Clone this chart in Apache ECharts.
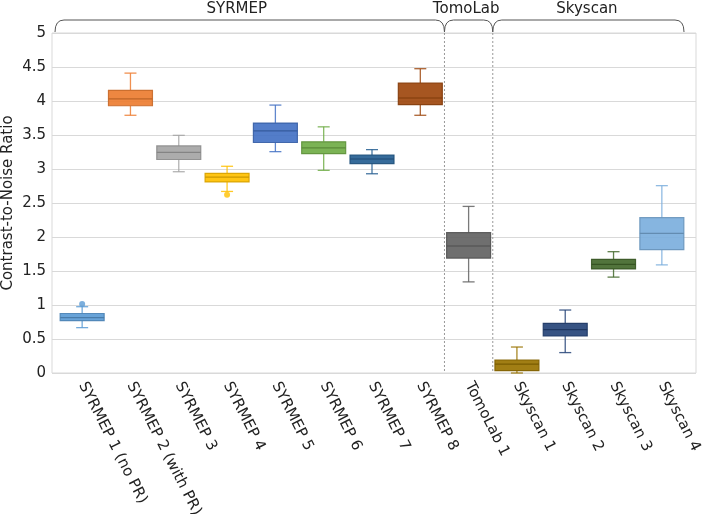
<!DOCTYPE html>
<html>
<head>
<meta charset="utf-8">
<script src="https://cdn.jsdelivr.net/npm/echarts@6/dist/echarts.min.js"></script>
<style>html,body{margin:0;padding:0;background:#fff}#c{width:709px;height:520px}</style>
</head>
<body>
<div id="c"></div>
<script>
const categories = ['SYRMEP 1 (no PR)', 'SYRMEP 2 (with PR)', 'SYRMEP 3', 'SYRMEP 4', 'SYRMEP 5', 'SYRMEP 6', 'SYRMEP 7', 'SYRMEP 8', 'TomoLab 1', 'Skyscan 1', 'Skyscan 2', 'Skyscan 3', 'Skyscan 4'];
const whiskerLow  = [0.667, 3.79, 2.96, 2.67, 3.255, 2.98, 2.93, 3.79, 1.34, 0.0, 0.30, 1.41, 1.59];
const q1          = [0.77, 3.93, 3.14, 2.81, 3.39, 3.225, 3.08, 3.946, 1.69, 0.034, 0.544, 1.53, 1.813];
const median      = [0.815, 4.03, 3.245, 2.88, 3.56, 3.31, 3.147, 4.044, 1.868, 0.13, 0.637, 1.598, 2.054];
const q3          = [0.875, 4.157, 3.34, 2.937, 3.676, 3.40, 3.206, 4.265, 2.063, 0.191, 0.73, 1.672, 2.284];
const whiskerHigh = [0.975, 4.41, 3.495, 3.04, 3.94, 3.62, 3.285, 4.475, 2.45, 0.382, 0.926, 1.784, 2.755];
const outlierCategory = [0, 3];
const outlierValue = [1.015, 2.62];
const colors = ['#5B9BD5', '#ED7D31', '#A5A5A5', '#FFC000', '#4472C4', '#70AD47', '#255E91', '#9E480E', '#636363', '#997300', '#264478', '#43682B', '#7CAFDD'];
const groups = [
  {name: 'SYRMEP', from: 0, to: 7, labelAt: 3.2},
  {name: 'TomoLab', from: 8, to: 8, labelAt: 7.95},
  {name: 'Skyscan', from: 9, to: 12, labelAt: 10.45}
];
const separators = [7.5, 8.5];

function shade(hex, f) {
  const n = parseInt(hex.slice(1), 16);
  const r = Math.round(((n >> 16) & 255) * f), g = Math.round(((n >> 8) & 255) * f), b = Math.round((n & 255) * f);
  return 'rgb(' + r + ',' + g + ',' + b + ')';
}

const boxData = categories.map((c, i) => [i, whiskerLow[i], q1[i], median[i], q3[i], whiskerHigh[i]]);
const outlierData = outlierCategory.map((c, i) => [c, outlierValue[i]]);

const FONT = 'DejaVu Sans';
const chart = echarts.init(document.getElementById('c'));
chart.setOption({
  animation: false,
  grid: [
    {left: 52, right: 13, top: 33, bottom: 147, show: true, borderColor: '#d9d9d9', borderWidth: 1, containLabel: false, outerBoundsMode: 'none'},
    {left: 58, right: 23, top: 33, bottom: 147, containLabel: false, outerBoundsMode: 'none'}
  ],
  xAxis: [
    {gridIndex: 0, type: 'category', data: categories, show: false},
    {gridIndex: 1, type: 'category', data: categories, boundaryGap: true,
      axisLine: {show: false}, axisTick: {show: false},
      axisLabel: {interval: 0, rotate: -63, margin: 10, fontFamily: FONT, fontSize: 15, color: '#222'}}
  ],
  yAxis: [
    {gridIndex: 0, type: 'value', min: 0, max: 5, interval: 0.5,
      name: 'Contrast-to-Noise Ratio', nameLocation: 'middle', nameGap: 36, nameMoveOverlap: false,
      nameTextStyle: {fontFamily: FONT, fontSize: 15, color: '#222'},
      axisLine: {show: false}, axisTick: {show: false},
      axisLabel: {fontFamily: FONT, fontSize: 15, color: '#222', margin: 6},
      splitLine: {lineStyle: {color: '#d9d9d9', width: 1}}},
    {gridIndex: 1, type: 'value', min: 0, max: 5, show: false, splitLine: {show: false}}
  ],
  series: [
    {
      type: 'custom', xAxisIndex: 1, yAxisIndex: 1,
      encode: {x: 0, y: [1, 2, 3, 4, 5]},
      data: boxData,
      renderItem: function (params, api) {
        const i = api.value(0);
        const col = colors[i];
        const band = api.size([1, 0])[0];
        const w = band * 0.91;
        const cap = 12;
        const pLow = api.coord([i, api.value(1)]);
        const pQ1 = api.coord([i, api.value(2)]);
        const pMed = api.coord([i, api.value(3)]);
        const pQ3 = api.coord([i, api.value(4)]);
        const pHigh = api.coord([i, api.value(5)]);
        const x = pMed[0];
        const wStyle = {stroke: col, lineWidth: 1.3, opacity: 0.85};
        return {
          type: 'group',
          children: [
            {type: 'line', shape: {x1: x, y1: pQ3[1], x2: x, y2: pHigh[1]}, style: wStyle},
            {type: 'line', shape: {x1: x, y1: pQ1[1], x2: x, y2: pLow[1]}, style: wStyle},
            {type: 'line', shape: {x1: x - cap / 2, y1: pHigh[1], x2: x + cap / 2, y2: pHigh[1]}, style: wStyle},
            {type: 'line', shape: {x1: x - cap / 2, y1: pLow[1], x2: x + cap / 2, y2: pLow[1]}, style: wStyle},
            {type: 'rect', shape: {x: x - w / 2, y: pQ3[1], width: w, height: pQ1[1] - pQ3[1]},
              style: {fill: col, opacity: 0.92, stroke: shade(col, 0.85), lineWidth: 1.2}},
            {type: 'line', shape: {x1: x - w / 2, y1: pMed[1], x2: x + w / 2, y2: pMed[1]},
              style: {stroke: shade(col, 0.8), lineWidth: 1.2}}
          ]
        };
      }
    },
    {
      type: 'scatter', xAxisIndex: 1, yAxisIndex: 1,
      data: outlierData, symbolSize: 6,
      itemStyle: {color: function (p) { return colors[p.data[0]]; }}
    }
  ]
});

function drawAnnotations() {
  const c0 = chart.convertToPixel({xAxisIndex: 1}, 0);
  const c1 = chart.convertToPixel({xAxisIndex: 1}, 1);
  const band = c1 - c0;
  const px = v => c0 + v * band;
  const yTop = chart.convertToPixel({yAxisIndex: 0}, 5);
  const yBot = chart.convertToPixel({yAxisIndex: 0}, 0);
  const lineY = yTop - 13, endY = yTop - 1, r = 9;
  const g = [];
  const st = {stroke: '#555', lineWidth: 1, fill: null};
  groups.forEach(gr => {
    const x0 = px(gr.from - 0.5) + (gr.from === 0 ? -3 : 0);
    const x1 = px(gr.to + 0.5) + (gr.to === categories.length - 1 ? -2 : 0);
    g.push({type: 'bezierCurve', silent: true,
      shape: {x1: x0, y1: endY, cpx1: x0, cpy1: lineY, x2: x0 + r, y2: lineY}, style: st});
    g.push({type: 'line', silent: true,
      shape: {x1: x0 + r, y1: lineY, x2: x1 - r, y2: lineY}, style: st});
    g.push({type: 'bezierCurve', silent: true,
      shape: {x1: x1 - r, y1: lineY, cpx1: x1, cpy1: lineY, x2: x1, y2: endY}, style: st});
    g.push({type: 'text', silent: true, x: px(gr.labelAt), y: 9,
      style: {text: gr.name, fontFamily: FONT, fontSize: 15, fill: '#222', align: 'center', verticalAlign: 'middle'}});
  });
  separators.forEach(s => {
    g.push({type: 'line', silent: true, shape: {x1: px(s), y1: yTop, x2: px(s), y2: yBot},
      style: {stroke: '#999', lineWidth: 1, lineDash: [2, 2]}});
  });
  chart.setOption({graphic: g});
}
drawAnnotations();
</script>
</body>
</html>
